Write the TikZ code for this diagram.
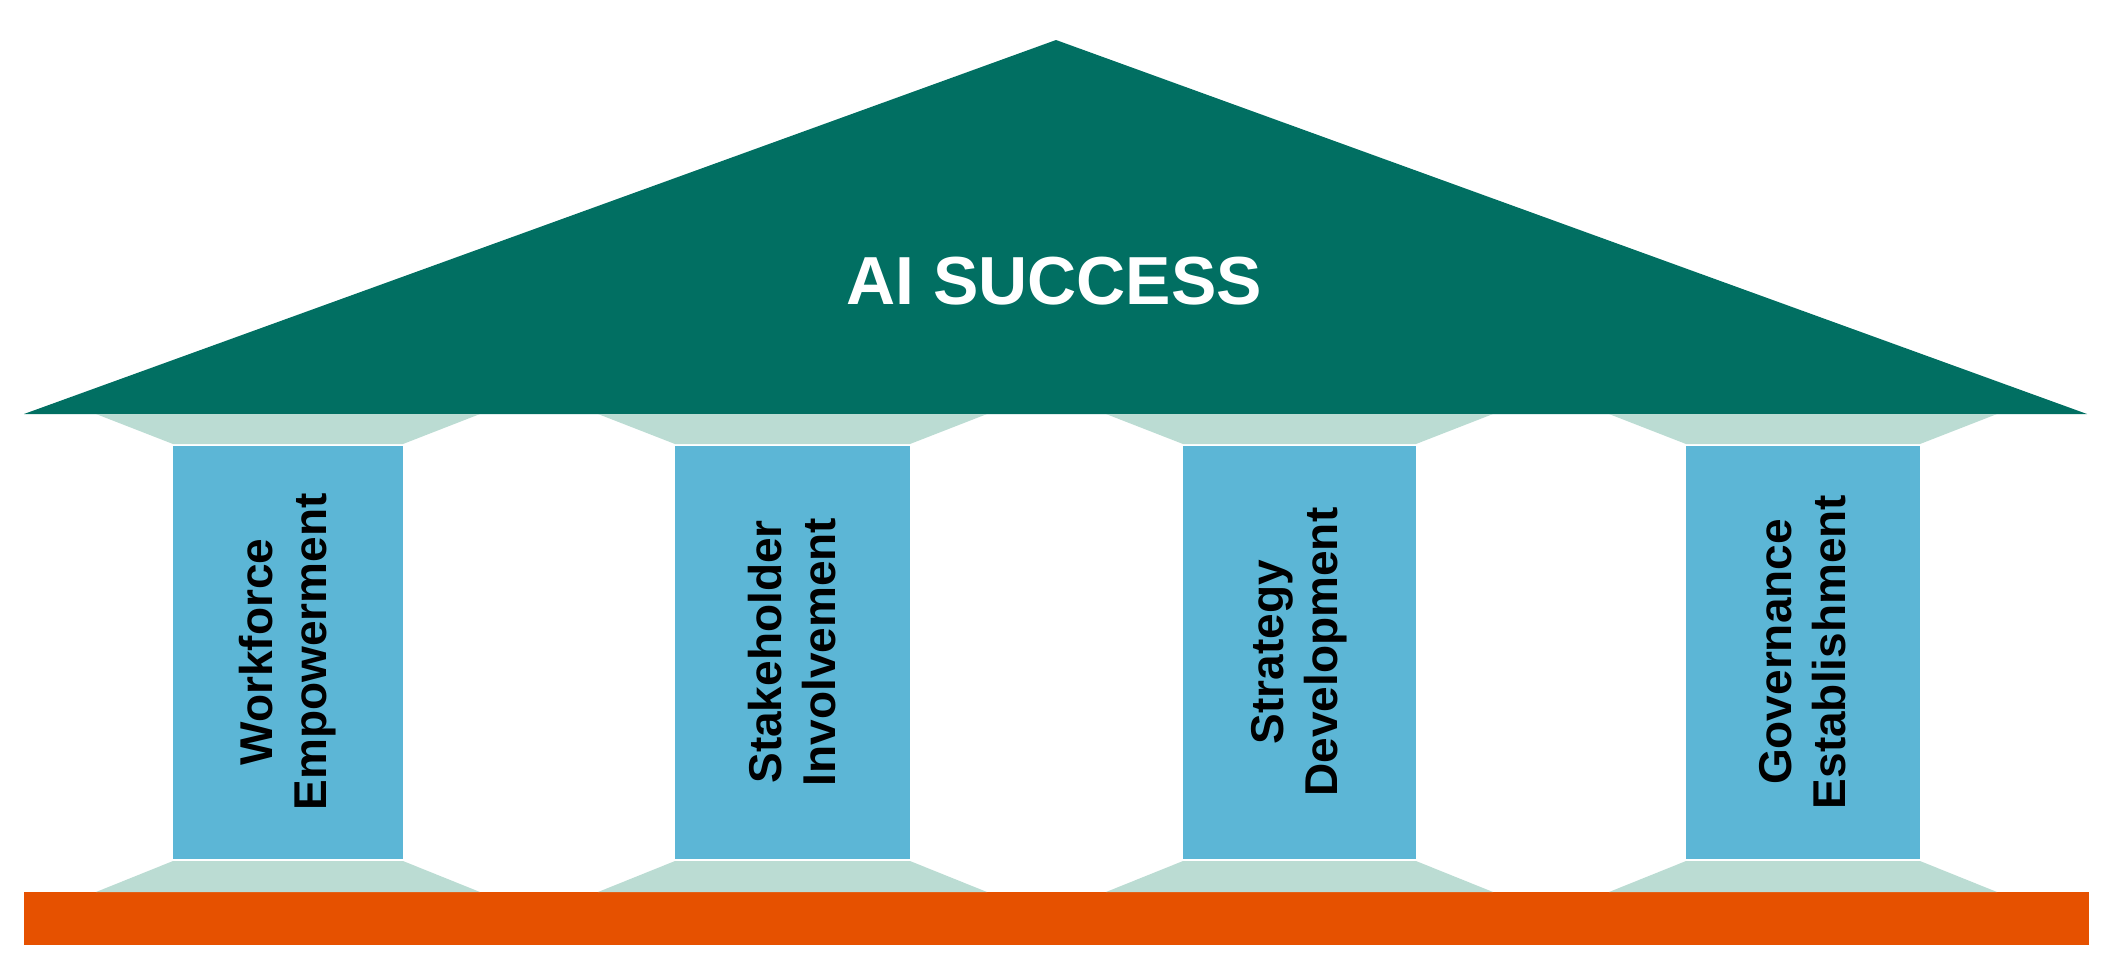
\documentclass[tikz,border=0pt]{standalone}
\usepackage{fontspec}
\setmainfont{Liberation Sans}
\definecolor{roofteal}{HTML}{016F62}
\definecolor{capgreen}{HTML}{BBDCD3}
\definecolor{pillarblue}{HTML}{5CB6D6}
\definecolor{baseorange}{HTML}{E65100}
\tikzset{
  roofstyle/.style={fill=roofteal},
  capstyle/.style={fill=capgreen},
  pillarstyle/.style={fill=pillarblue},
  basestyle/.style={fill=baseorange},
  pillarlabel/.style={rotate=90, align=center, text=black, inner sep=0pt,
    font=\fontsize{46}{54}\selectfont\bfseries},
  titlelabel/.style={text=white, inner sep=0pt,
    font=\fontsize{68}{80}\selectfont\bfseries}
}
\begin{document}
\begin{tikzpicture}[x=1pt,y=-1pt]
\useasboundingbox (0,0) rectangle (2116,978);
% roof
\fill[roofstyle] (24,414) -- (1056,40) -- (2087,414) -- cycle;
\node[titlelabel] (title) at (1054,281) {AI SUCCESS};
% base
\fill[basestyle] (24,892) rectangle (2089,945);
% pillars
\foreach \l/\r/\name/\txt in {173/403/p1/{Workforce\\Empowerment},
                               675/910/p2/{Stakeholder\\Involvement},
                               1183/1416/p3/{Strategy\\Development},
                               1686/1920/p4/{Governance\\Establishment}}{
  \fill[capstyle] (\l-77,414) -- (\l+0,444) -- (\r+0,444) -- (\r+77,414) -- cycle;
  \fill[capstyle] (\l-77,892) -- (\l+0,861) -- (\r+0,861) -- (\r+77,892) -- cycle;
  \fill[pillarstyle] (\l,446) rectangle (\r,859);
  \node[pillarlabel] (\name) at ({(\l+\r)/2},652) {\txt};
}
\end{tikzpicture}
\end{document}
